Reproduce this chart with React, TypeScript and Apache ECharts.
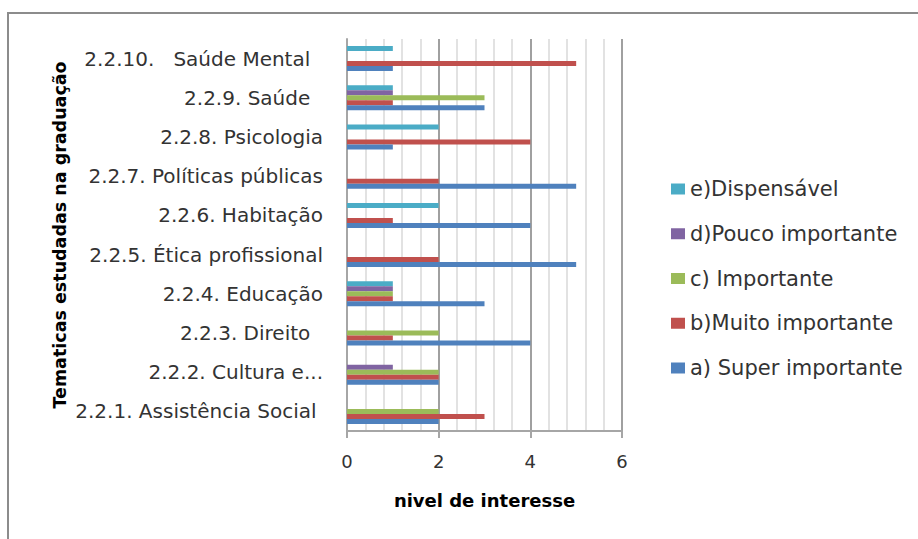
import React, { useEffect, useRef } from "react";
import * as echarts from "echarts";

const categories = [
  "2.2.1. Assistência Social ",
  "2.2.2. Cultura e...",
  "2.2.3. Direito  ",
  "2.2.4. Educação",
  "2.2.5. Ética profissional",
  "2.2.6. Habitação",
  "2.2.7. Políticas públicas",
  "2.2.8. Psicologia",
  "2.2.9. Saúde  ",
  "2.2.10.   Saúde Mental  ",
];

const seriesNames = [
  "e)Dispensável",
  "d)Pouco importante",
  "c) Importante",
  "b)Muito importante",
  "a) Super importante",
];

const dispensavel = [0, 0, 0, 1, 0, 2, 0, 2, 1, 1];
const poucoImportante = [0, 1, 0, 1, 0, 0, 0, 0, 1, 0];
const importante = [2, 2, 2, 1, 0, 0, 0, 0, 3, 0];
const muitoImportante = [3, 2, 1, 1, 2, 1, 2, 4, 1, 5];
const superImportante = [2, 2, 4, 3, 5, 4, 5, 1, 3, 1];

const seriesValues = [dispensavel, poucoImportante, importante, muitoImportante, superImportante];
const colors = ["#4BACC6", "#8064A2", "#9BBB59", "#C0504D", "#4F81BD"];

const xTicks = { min: 0, max: 6, interval: 2 };

export default function App() {
  const ref = useRef<HTMLDivElement>(null);
  useEffect(() => {
    if (!ref.current) return;
    const chart = echarts.init(ref.current, null, { renderer: "svg" });
    const font = "'DejaVu Sans', 'Open Sans', sans-serif";
    chart.setOption({
      animation: false,
      backgroundColor: "#ffffff",
      textStyle: { fontFamily: font },
      grid: { left: 347, right: 296, top: 39, bottom: 108, containLabel: false },
      legend: {
        orient: "vertical",
        left: 666,
        top: 173,
        itemWidth: 14,
        itemHeight: 11,
        itemGap: 22.75,
        icon: "rect",
        data: seriesNames,
        textStyle: { fontFamily: font, fontSize: 21, color: "#333", lineHeight: 22 },
      },
      xAxis: {
        type: "value",
        min: xTicks.min,
        max: xTicks.max,
        interval: xTicks.interval,
        name: "nivel de interesse",
        nameLocation: "middle",
        nameGap: 60,
        nameTextStyle: { fontFamily: font, fontSize: 18, fontWeight: "bold", color: "#000" },
        axisLine: { show: true, lineStyle: { color: "#a6a6a6", width: 2 } },
        axisTick: { show: true, length: 7, lineStyle: { color: "#a6a6a6", width: 2 } },
        minorTick: { show: false, splitNumber: 5 },
        axisLabel: { fontFamily: font, fontSize: 18, color: "#333", margin: 21 },
        splitLine: { show: true, lineStyle: { color: "#a0a0a0", width: 2 } },
        minorSplitLine: { show: true, lineStyle: { color: "#d9d9d9", width: 1.5 } },
      },
      yAxis: {
        type: "category",
        data: categories,
        name: "Tematicas estudadas na graduação",
        nameLocation: "middle",
        nameGap: 278,
        nameRotate: 90,
        nameTextStyle: { fontFamily: font, fontSize: 17.5, fontWeight: "bold", color: "#000" },
        axisLine: { show: true, lineStyle: { color: "#a6a6a6", width: 2 } },
        axisTick: { show: false },
        axisLabel: { fontFamily: font, fontSize: 20, color: "#333", margin: 24 },
        splitLine: { show: false },
      },
      series: seriesNames.map((name, i) => ({
        name,
        type: "bar",
        data: seriesValues[i],
        barWidth: 5,
        barGap: "0%",
        itemStyle: { color: colors[i] },
      })),
      graphic: [
        {
          type: "polyline",
          shape: { points: [[8, 539], [8, 13], [918, 13]] },
          style: { stroke: "#8c8c8c", lineWidth: 2, fill: "none" },
          silent: true,
        },
      ],
    });
    return () => chart.dispose();
  }, []);
  return (
    <div
      ref={ref}
      style={{ position: "fixed", left: 0, top: 0, width: 918, height: 539 }}
    />
  );
}
